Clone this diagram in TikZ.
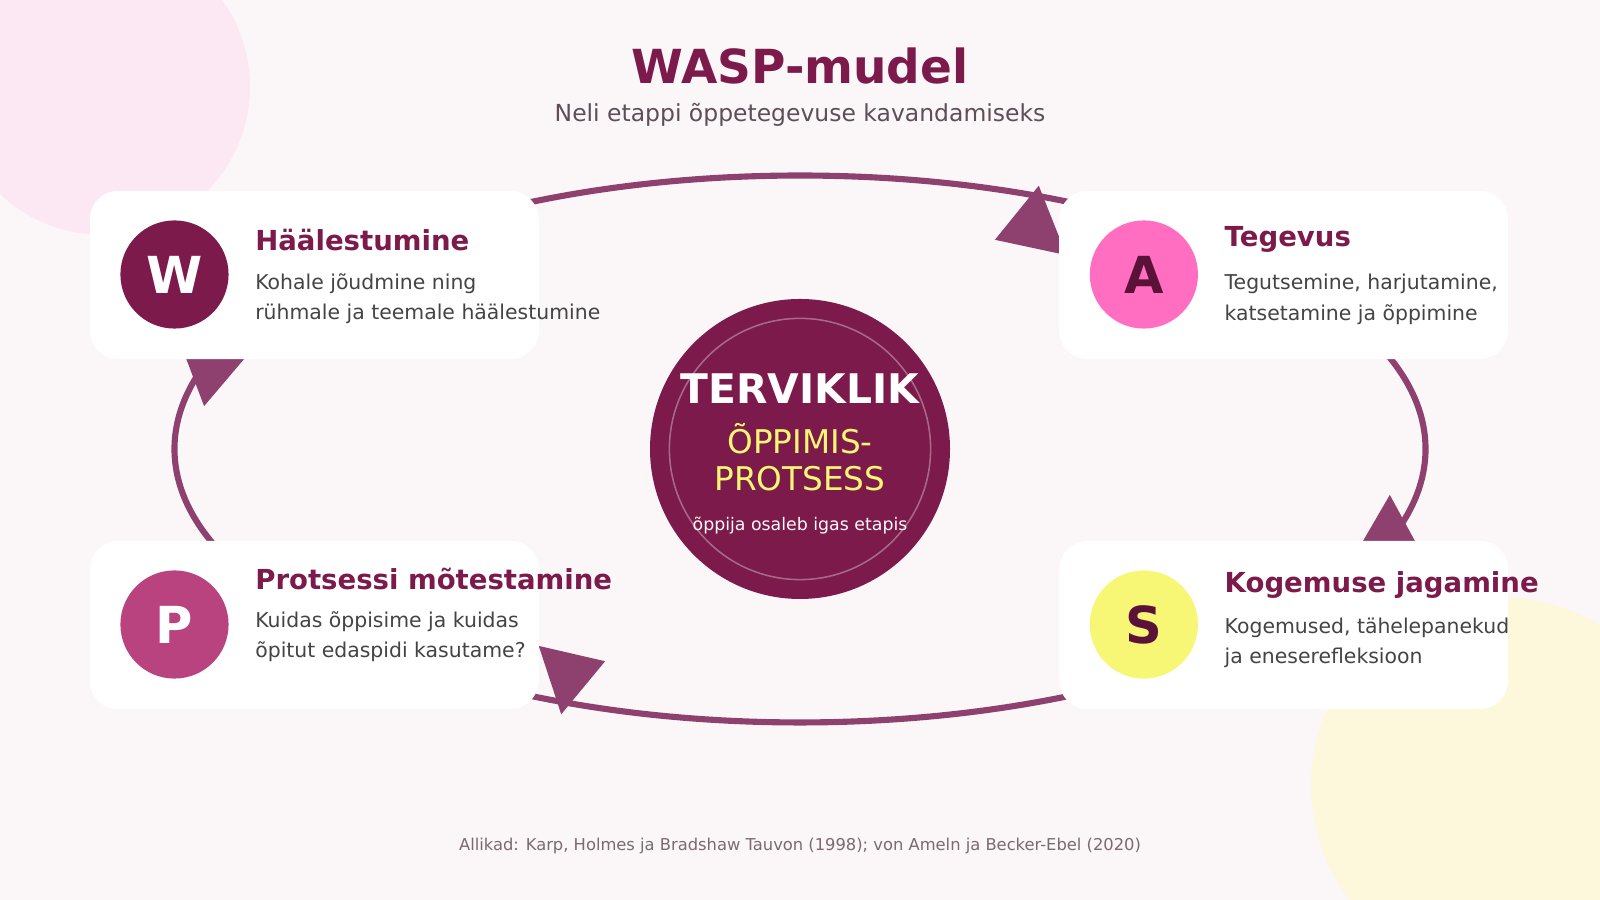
\documentclass[tikz,border=0pt]{standalone}
\usepackage{fontspec}
\setmainfont{DejaVu Sans}
\usetikzlibrary{positioning}
\definecolor{wine}{HTML}{7B1A4B}
\definecolor{winedark}{HTML}{5A1238}
\definecolor{rosa}{HTML}{FF6EC0}
\definecolor{plum}{HTML}{B8437F}
\definecolor{lemon}{HTML}{F7F775}
\definecolor{arrowc}{HTML}{8E416E}
\definecolor{bgc}{HTML}{FBF6F8}
\definecolor{blush}{HTML}{FCE8F2}
\definecolor{cream}{HTML}{FDF8DC}
\definecolor{txt}{HTML}{444444}
\definecolor{subc}{HTML}{5E4E58}
\definecolor{footc}{HTML}{7A6A72}
\newcommand{\fs}[1]{\fontsize{#1}{#1}\selectfont}

\begin{document}
\begin{tikzpicture}[
    x=1pt, y=-1pt,
    card/.style={rectangle, fill=white, rounded corners=28pt, minimum width=440pt, minimum height=165pt, inner sep=0pt},
    badge/.style={circle, minimum size=106pt, inner sep=0pt, font=\fs{50}\bfseries},
    head/.style={anchor=west, text=wine, font=\fs{27}\bfseries, inner sep=0pt},
    desc/.style={anchor=west, text=txt, font=\fs{20}, inner sep=0pt},
    cycle/.style={draw=arrowc, line width=6pt},
    tip/.style={fill=arrowc}
]
\fill[bgc] (0,0) rectangle (1568,882);
\useasboundingbox (0,0) rectangle (1568,882);
\fill[blush] (100,85) circle (145);
\fill[cream] (1470,770) circle (185);

% title
\node[text=wine, font=\fs{46}\bfseries] (title) at (784,65) {WASP-mudel};
\node[text=subc, font=\fs{23}] (subtitle) at (784,113) {Neli etappi õppetegevuse kavandamiseks};

% cycle and arrow tips
\draw[cycle] (784,440) ellipse (613 and 268);
\fill[tip] (975,235) -- (1018,182) -- (1045,250) -- cycle;
\fill[tip] (1362,485) -- (1330,540) -- (1392,540) -- cycle;
\fill[tip] (528,633) -- (593,648) -- (550,700) -- cycle;
\fill[tip] (200,398) -- (180,345) -- (245,345) -- cycle;

% cards
\node[card] (cardW) at (308,269.5) {};
\node[card] (cardA) at (1258,269.5) {};
\node[card] (cardP) at (308,612.5) {};
\node[card] (cardS) at (1258,612.5) {};

\node[badge, fill=wine, text=white] (W) at (171,269) {W};
\node[badge, fill=rosa, text=winedark] (A) at (1121,269) {A};
\node[badge, fill=plum, text=white] (P) at (171,612) {P};
\node[badge, fill=lemon, text=winedark] (S) at (1121,612) {S};

\node[head] (hW) at (250,235) {Häälestumine};
\node[desc] at (250,278) {Kohale jõudmine ning};
\node[desc] at (250,308) {rühmale ja teemale häälestumine};
\node[head] (hA) at (1200,235) {Tegevus};
\node[desc] at (1200,278) {Tegutsemine, harjutamine,};
\node[desc] at (1200,308) {katsetamine ja õppimine};
\node[head] (hP) at (250,567) {Protsessi mõtestamine};
\node[desc] at (250,609) {Kuidas õppisime ja kuidas};
\node[desc] at (250,639) {õpitut edaspidi kasutame?};
\node[head] (hS) at (1200,573) {Kogemuse jagamine};
\node[desc] at (1200,615) {Kogemused, tähelepanekud};
\node[desc] at (1200,645) {ja eneserefleksioon};

% centre
\node[circle, fill=wine, minimum size=294pt] (core) at (784,440) {};
\draw[white, opacity=0.35, line width=1.5pt] (core.center) circle (128);
\node[text=white, font=\fs{40}\bfseries] at (784,381) {TERVIKLIK};
\node[text=lemon, font=\fs{32}] at (784,430) {ÕPPIMIS-};
\node[text=lemon, font=\fs{32}] at (784,469) {PROTSESS};
\node[text=white!90!pink, font=\fs{17}] at (784,515) {õppija osaleb igas etapis};

\node[text=footc, font=\fs{16}] (foot) at (784,829) {Allikad: Karp, Holmes ja Bradshaw Tauvon (1998); von Ameln ja Becker-Ebel (2020)};
\end{tikzpicture}
\end{document}
